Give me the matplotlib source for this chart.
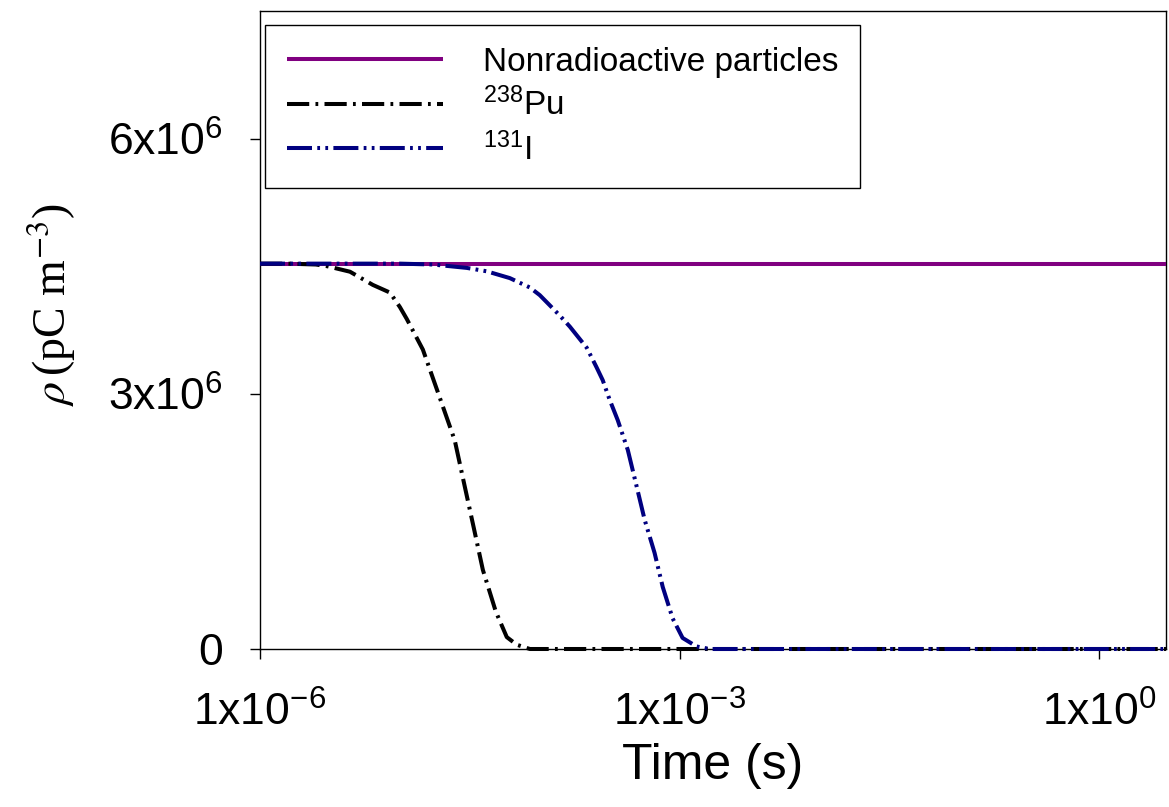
import numpy as np
import matplotlib
matplotlib.use("Agg")
import matplotlib.pyplot as plt
from matplotlib.ticker import FixedLocator, FixedFormatter, NullLocator

plt.rcParams['font.family'] = ['Liberation Sans', 'DejaVu Sans']
plt.rcParams['mathtext.fontset'] = 'custom'
plt.rcParams['mathtext.rm'] = 'Liberation Sans'
plt.rcParams['mathtext.it'] = 'Liberation Sans:italic'
plt.rcParams['mathtext.bf'] = 'Liberation Sans:bold'
plt.rcParams['lines.scale_dashes'] = False

# ---- data ----
nonrad_time = [1e-6, 3.0]
nonrad_rho = [4.53e6, 4.53e6]

pu_time = [1e-6, 1.58e-6, 2.51e-6, 3.02e-6, 4.40e-6, 6.41e-6, 8.49e-6, 1.0e-5,
           1.12e-5, 1.46e-5, 1.84e-5, 2.47e-5, 2.91e-5, 3.38e-5, 3.92e-5,
           4.85e-5, 5.81e-5, 6.85e-5, 8.5e-5, 1e-4, 1e-3, 1e-2, 1e-1, 1.0, 3.0]
pu_rho = [4.53e6, 4.53e6, 4.52e6, 4.50e6, 4.435e6, 4.28e6, 4.19e6, 4.02e6,
          3.88e6, 3.52e6, 3.05e6, 2.45e6, 1.91e6, 1.42e6, 0.93e6,
          0.44e6, 0.14e6, 0.05e6, 0.0, 0.0, 0.0, 0.0, 0.0, 0.0, 0.0]

i_time = [1e-6, 1e-5, 1.72e-5, 3.01e-5, 4.18e-5, 6.11e-5, 8.49e-5, 1.0e-4,
          1.18e-4, 1.39e-4, 1.64e-4, 2.17e-4, 2.55e-4, 2.82e-4, 3.16e-4,
          3.61e-4, 4.26e-4, 4.93e-4, 5.62e-4, 6.62e-4, 7.57e-4, 8.91e-4,
          1.05e-3, 1.32e-3, 1.64e-3, 1e-2, 1e-1, 1.0, 3.0]
i_rho = [4.53e6, 4.53e6, 4.52e6, 4.48e6, 4.44e6, 4.36e6, 4.25e6, 4.16e6,
         4.04e6, 3.92e6, 3.79e6, 3.54e6, 3.31e6, 3.16e6, 2.93e6,
         2.69e6, 2.34e6, 1.91e6, 1.52e6, 1.13e6, 0.73e6, 0.36e6,
         0.13e6, 0.03e6, 0.0, 0.0, 0.0, 0.0, 0.0]

labels = ['Nonradioactive particles', r'$^{238}$Pu', r'$^{131}$I']
x_ticks = [1e-6, 1e-3, 1e0]
x_ticklabels = [r'1x10$^{-6}$', r'1x10$^{-3}$', r'1x10$^{0}$']
y_ticks = [0, 3e6, 6e6]
y_ticklabels = ['0', r'3x10$^{6}$', r'6x10$^{6}$']

# ---- figure ----
fig = plt.figure(figsize=(11.69, 8.07), dpi=100)
ax = fig.add_axes([260/1169, 1-649/807, 906/1169, 638/807])

lw = 2.9
ax.plot(nonrad_time, nonrad_rho, color='#800080', lw=lw, solid_capstyle='butt',
        clip_on=False, label=labels[0], zorder=3)
ax.plot(pu_time, pu_rho, color='black', lw=lw,
        linestyle=(0, (16, 4.5, 2, 4.5)), clip_on=False, label=labels[1], zorder=4)
ax.plot(i_time, i_rho, color='#000080', lw=lw,
        linestyle=(0, (18, 3.8, 2, 3.8, 2, 3.8)), clip_on=False, label=labels[2], zorder=5)

ax.set_xscale('log')
ax.set_xlim(1e-6, 3.0)
ax.set_ylim(0, 7.5e6)

ax.xaxis.set_major_locator(FixedLocator(x_ticks))
ax.xaxis.set_major_formatter(FixedFormatter(x_ticklabels))
ax.xaxis.set_minor_locator(NullLocator())
ax.yaxis.set_major_locator(FixedLocator(y_ticks))
ax.yaxis.set_major_formatter(FixedFormatter(y_ticklabels))
ax.yaxis.set_minor_locator(NullLocator())

ax.tick_params(direction='out', length=7, width=1.0, labelsize=32)
ax.tick_params(axis='y', pad=20)
ax.tick_params(axis='x', pad=24)
for s in ax.spines.values():
    s.set_linewidth(1.0)

ax.set_xlabel('Time (s)', fontsize=36, labelpad=6)
ax.set_ylabel(r'$\rho\,$(pC m$^{-3}$)', fontsize=33, family='Liberation Serif',
              math_fontfamily='stix')
ax.yaxis.set_label_coords(-0.201, 0.54)

leg = ax.legend(loc='upper left', bbox_to_anchor=(0.0055, 0.978), borderaxespad=0,
                fontsize=24, frameon=True, fancybox=False, edgecolor='black',
                framealpha=1, handlelength=4.7, handletextpad=1.2,
                labelspacing=0.3, borderpad=0.65)
leg.get_frame().set_linewidth(1.0)

fig.savefig('out.png', dpi=100)
